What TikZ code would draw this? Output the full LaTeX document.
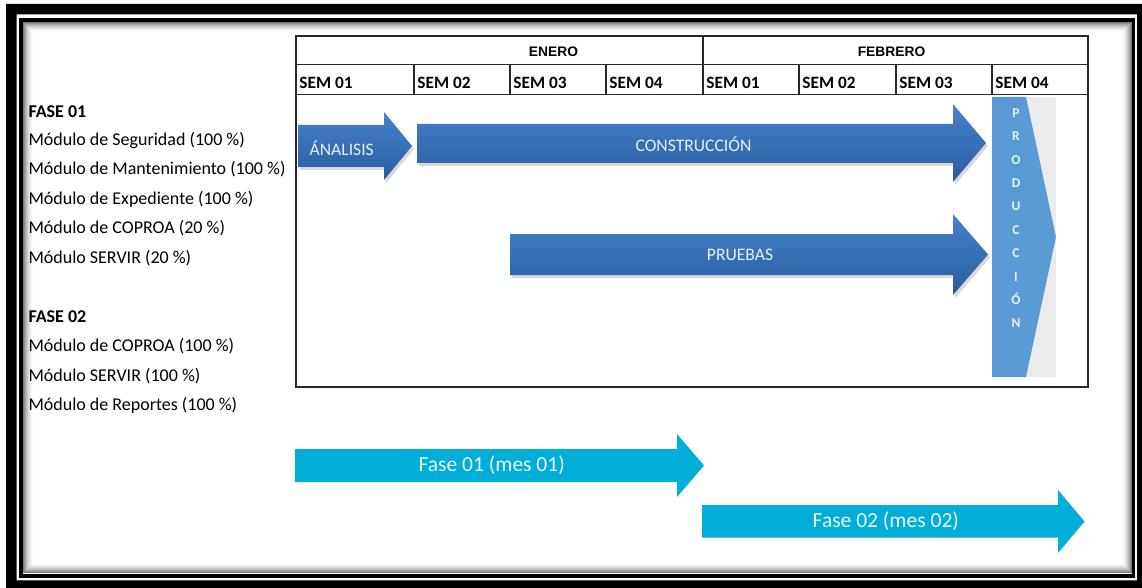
\documentclass[tikz,border=0pt]{standalone}
\usepackage{fontspec}
\setmainfont{Carlito}
\newfontfamily\headfont{Liberation Sans}
\usetikzlibrary{shadows}

\definecolor{bluetop}{RGB}{70,130,206}
\definecolor{bluebot}{RGB}{42,92,158}
\definecolor{cyanbar}{RGB}{0,174,216}
\definecolor{prodblue}{RGB}{91,155,213}
\definecolor{prodgray}{RGB}{235,235,235}
\definecolor{labellight}{RGB}{232,239,248}
\definecolor{gridcol}{RGB}{40,40,40}

\tikzset{
  gridline/.style={draw=gridcol, line width=1.2pt},
  monthlabel/.style={anchor=base, font=\headfont\bfseries\fontsize{13.8}{14}\selectfont},
  weeklabel/.style={anchor=base west, font=\bfseries\fontsize{17.3}{17}\selectfont},
  phaselabel/.style={anchor=base west, font=\bfseries\fontsize{18}{18}\selectfont},
  modlabel/.style={anchor=base west, font=\fontsize{18}{18}\selectfont},
  taskarrow/.style={top color=bluetop, bottom color=bluebot, draw=none,
    drop shadow={opacity=0.3, shadow xshift=2pt, shadow yshift=-3pt}},
  tasklabel/.style={text=labellight, font=\fontsize{17.6}{17.6}\selectfont},
  phasearrow/.style={fill=cyanbar, draw=none},
  phasetext/.style={text=white!92!cyanbar, font=\fontsize{21.5}{21.5}\selectfont},
  prodletter/.style={anchor=base, text=labellight, font=\bfseries\fontsize{13.5}{13.5}\selectfont},
}

\begin{document}
\begin{tikzpicture}[x=1pt, y=-1pt]
\useasboundingbox (0,0) rectangle (1142,588);
\fill[white] (0,0) rectangle (1142,588);

% double black frame
\fill[black, even odd rule] (6,4) rectangle (1142,588) (16.7,14.3) rectangle (1137,580.3);
\draw[black, line width=3.4pt] (21,20) rectangle (1133.3,575.8);
% soft inner shadow of the frame
\foreach \i in {1,...,11} {
  \pgfmathsetmacro\g{int(62*(1-\i/12)^2)}
  \draw[black!\g, line width=1.1pt]
    (22.7+\i-0.5, 21.7+\i-0.5) rectangle (1131.7-\i+0.5, 573.3-\i+0.5);
}

% calendar grid
\draw[gridline] (296,36) rectangle (1088,387);
\draw[gridline] (296,64.5) -- (1088,64.5);
\draw[gridline] (296,94.5) -- (1088,94.5);
\draw[gridline] (703,36) -- (703,94.5);
\foreach \x in {414,510,606,799,896,992}
  \draw[gridline] (\x,64.5) -- (\x,94.5);

\node[monthlabel] (ene) at (553.5,56.7) {ENERO};
\node[monthlabel] (feb) at (891.5,56.7) {FEBRERO};

\foreach \x/\t [count=\k] in {296/SEM 01,414/SEM 02,510/SEM 03,606/SEM 04,703/SEM 01,799/SEM 02,896/SEM 03,992/SEM 04}
  \node[weeklabel, inner sep=0pt] (sem-\k) at (\x+3.2,88.3) {\t};

% phases and modules
\node[phaselabel, inner sep=0pt] (f1) at (28.3,117.5) {FASE 01};
\node[modlabel, inner sep=0pt] (m1) at (28.3,145.5) {Módulo de Seguridad (100 \%)};
\node[modlabel, inner sep=0pt] (m2) at (28.3,175) {Módulo de Mantenimiento (100 \%)};
\node[modlabel, inner sep=0pt] (m3) at (28.3,204.3) {Módulo de Expediente (100 \%)};
\node[modlabel, inner sep=0pt] (m4) at (28.3,233.6) {Módulo de COPROA (20 \%)};
\node[modlabel, inner sep=0pt] (m5) at (28.3,263) {Módulo SERVIR (20 \%)};
\node[phaselabel, inner sep=0pt] (f2) at (28.3,322.3) {FASE 02};
\node[modlabel, inner sep=0pt] (m6) at (28.3,351.6) {Módulo de COPROA (100 \%)};
\node[modlabel, inner sep=0pt] (m7) at (28.3,381) {Módulo SERVIR (100 \%)};
\node[modlabel, inner sep=0pt] (m8) at (28.3,410.5) {Módulo de Reportes (100 \%)};

% task arrows
\path[taskarrow] (298,125) -- (384,125) -- (384,112) -- (412,146)
  -- (384,180) -- (384,167) -- (298,167) -- cycle;
\node[tasklabel] (ana) at (341.7,148.3) {ÁNALISIS};

\path[taskarrow] (417,124) -- (953,124) -- (953,104) -- (986,143)
  -- (953,182) -- (953,163) -- (417,163) -- cycle;
\node[tasklabel] (con) at (693.5,144) {CONSTRUCCIÓN};

\path[taskarrow] (510,234) -- (953,234) -- (953,214) -- (988,254.5)
  -- (953,295) -- (953,275) -- (510,275) -- cycle;
\node[tasklabel] (pru) at (740,255) {PRUEBAS};

% production chevron
\fill[prodgray] (992,97) rectangle (1056,377);
\fill[prodblue] (992,97) -- (1026,97) -- (1056,237) -- (1026,377) -- (992,377) -- cycle;
\foreach \c [count=\i] in {P,R,O,D,U,C,C,I,Ó,N}
  \node[prodletter, inner sep=0pt] (prod-\i) at (1016,117.5+23.37*\i-23.37) {\c};

% phase timeline arrows
\path[phasearrow] (295,449) -- (677,449) -- (677,434) -- (704,465.5)
  -- (677,497) -- (677,482) -- (295,482) -- cycle;
\node[phasetext] (fase1) at (491.7,465) {Fase 01 (mes 01)};

\path[phasearrow] (702,505) -- (1058,505) -- (1058,490) -- (1084.5,521.5)
  -- (1058,553) -- (1058,537.5) -- (702,537.5) -- cycle;
\node[phasetext] (fase2) at (885.8,521.5) {Fase 02 (mes 02)};
\end{tikzpicture}
\end{document}
